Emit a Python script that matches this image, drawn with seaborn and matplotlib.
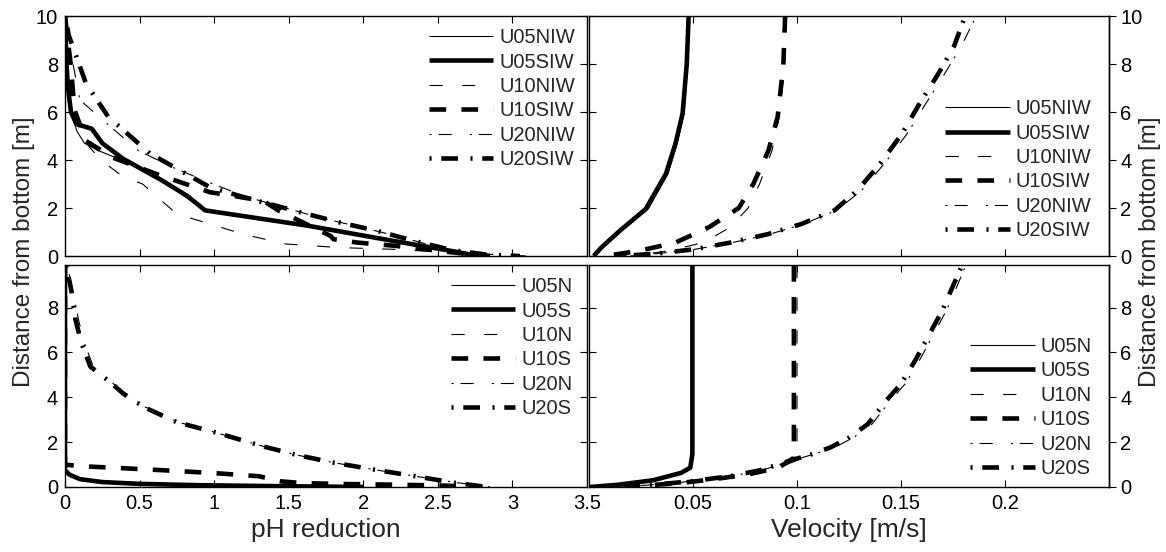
import numpy as np
import pandas as pd
import matplotlib
matplotlib.use("Agg")
import matplotlib.pyplot as plt
import seaborn as sns

# ---------------- data ----------------
labels_iw = ["U05NIW", "U05SIW", "U10NIW", "U10SIW", "U20NIW", "U20SIW"]
labels_n = ["U05N", "U05S", "U10N", "U10S", "U20N", "U20S"]

# top-left: pH reduction (with internal wave)
tl_u05n_z = [10, 8, 6, 5.2, 4.7, 4.4, 4.0, 3.2, 2.5, 1.9, 1.3, 0.6, 0.2, 0]
tl_u05n_x = [0, 0.01, 0.04, 0.08, 0.13, 0.22, 0.38, 0.63, 0.8, 0.93, 1.62, 2.2, 2.6, 2.77]
tl_u05s_z = [10, 9, 8, 7, 6, 5.5, 5.3, 4.7, 4.05, 3.15, 2.5, 1.9, 1.26, 0.63, 0.2, 0]
tl_u05s_x = [0, 0.005, 0.01, 0.02, 0.04, 0.076, 0.18, 0.25, 0.39, 0.65, 0.82, 0.94, 1.63, 2.2, 2.6, 2.77]
tl_u10n_z = [10, 8, 6.1, 5, 4.5, 4.0, 3.3, 3.0, 2.45, 1.75, 1.47, 0.9, 0.5, 0.35, 0.28, 0.14, 0]
tl_u10n_x = [0, 0.02, 0.05, 0.1, 0.17, 0.24, 0.39, 0.52, 0.62, 0.75, 0.9, 1.2, 1.48, 1.84, 2.2, 2.6, 3.1]
tl_u10s_z = [10, 7.9, 6.1, 4.8, 4.1, 3.4, 2.66, 2.3, 1.9, 0.84, 0.7, 0.56, 0.42, 0.24, 0.1, 0]
tl_u10s_x = [0, 0.04, 0.063, 0.14, 0.32, 0.62, 0.97, 1.33, 1.43, 1.78, 1.8, 1.96, 2.22, 2.47, 2.67, 2.85]
tl_u20n_z = [10, 9.3, 6.5, 5.9, 4.4, 3.7, 3.08, 2.5, 2.03, 1.6, 1.19, 0.84, 0.42, 0.07, 0]
tl_u20n_x = [0, 0.013, 0.1, 0.21, 0.49, 0.72, 0.96, 1.2, 1.46, 1.71, 1.99, 2.22, 2.47, 2.72, 2.77]
tl_u20s_z = [10, 9.2, 7.2, 5.8, 4.27, 2.87, 2.45, 1.82, 1.4, 1.05, 0.63, 0.24, 0.04, 0]
tl_u20s_x = [0, 0.025, 0.14, 0.29, 0.57, 0.97, 1.2, 1.58, 1.84, 2.09, 2.34, 2.6, 2.85, 3.05]

# top-right: velocity (with internal wave)
tr_u05_z = [10, 8, 5.94, 4.69, 3.43, 1.96, 1.05, 0.35, 0]
tr_u05n_v = [0.0482, 0.0474, 0.0457, 0.0424, 0.038, 0.0285, 0.0155, 0.006, 0.0023]
tr_u05s_v = [0.0479, 0.047, 0.045, 0.0416, 0.037, 0.0273, 0.0148, 0.0059, 0.0023]
tr_u10_z = [10, 7.9, 5.8, 4.4, 3.0, 2.0, 1.2, 0.56, 0.21, 0]
tr_u10n_v = [0.095, 0.094, 0.0915, 0.088, 0.082, 0.0765, 0.068, 0.055, 0.038, 0.02]
tr_u10s_v = [0.0943, 0.0934, 0.0907, 0.0863, 0.079, 0.072, 0.0577, 0.0416, 0.0238, 0.0077]
tr_u20_z = [9.8, 8.74, 7.6, 6.36, 5.1, 3.85, 2.73, 1.9, 1.33, 0.91, 0.56, 0.28, 0.1, 0]
tr_u20n_v = [0.185, 0.179, 0.171, 0.162, 0.153, 0.142, 0.131, 0.119, 0.103, 0.087, 0.069, 0.051, 0.033, 0.015]
tr_u20s_v = [0.18, 0.1755, 0.168, 0.159, 0.1505, 0.14, 0.129, 0.118, 0.102, 0.086, 0.068, 0.0505, 0.0327, 0.015]

# bottom-left: pH reduction (no internal wave)
bl_u05n_z = [9.9, 0.7, 0.45, 0.3, 0.2, 0.12, 0.06, 0.02, 0]
bl_u05n_x = [0, 0, 0.05, 0.12, 0.3, 0.6, 1.0, 1.5, 2.0]
bl_u05s_z = [9.9, 0.75, 0.55, 0.35, 0.22, 0.14, 0.08, 0.04, 0]
bl_u05s_x = [0, 0, 0.03, 0.1, 0.25, 0.5, 0.9, 1.4, 2.0]
bl_u10n_z = [9.9, 0.6, 0.3, 0.15, 0.1, 0.06, 0.03, 0]
bl_u10n_x = [0, 0, 0.05, 0.4, 0.9, 1.5, 2.1, 2.6]
bl_u10s_z = [9.9, 1.0, 0.93, 0.85, 0.75, 0.62, 0.48, 0.25, 0.17, 0.13, 0.1, 0.06, 0]
bl_u10s_x = [0, 0, 0.1, 0.35, 0.65, 1.0, 1.3, 1.45, 1.6, 1.9, 2.25, 2.55, 2.8]
bl_u20_z = [9.88, 8.68, 7.47, 6.42, 5.37, 4.69, 4.17, 3.56, 2.89, 2.45, 1.79, 1.42, 1.1, 0.8, 0.5, 0.2, 0]
bl_u20n_x = [0.015, 0.055, 0.09, 0.13, 0.19, 0.31, 0.4, 0.54, 0.76, 1.0, 1.34, 1.56, 1.79, 2.05, 2.33, 2.62, 2.85]
bl_u20s_x = [0.008, 0.045, 0.07, 0.11, 0.17, 0.30, 0.39, 0.53, 0.75, 1.0, 1.34, 1.56, 1.79, 2.05, 2.33, 2.6, 2.83]

# bottom-right: velocity (no internal wave)
br_u05_z = [9.9, 1.46, 0.86, 0.63, 0.3, 0.1, 0]
br_u05n_v = [0.0499, 0.0499, 0.0488, 0.0445, 0.031, 0.014, 0.0005]
br_u05s_v = [0.0497, 0.0497, 0.0487, 0.0443, 0.0308, 0.0138, 0.0005]
br_u10n_z = [9.9, 1.2, 1.0, 0.7, 0.4, 0.15, 0]
br_u10n_v = [0.1, 0.1, 0.095, 0.085, 0.068, 0.045, 0.02]
br_u10s_z = [9.9, 1.3, 1.16, 0.86, 0.56, 0.33, 0.18, 0.05, 0]
br_u10s_v = [0.0985, 0.0985, 0.0962, 0.091, 0.0765, 0.0586, 0.044, 0.025, 0.015]
br_u20_z = [9.75, 8.97, 7.9, 6.87, 5.67, 4.6, 3.86, 2.8, 2.2, 1.76, 1.46, 1.16, 0.74, 0.48, 0.26, 0.15, 0.05, 0]
br_u20n_v = [0.1805, 0.177, 0.172, 0.166, 0.159, 0.152, 0.145, 0.136, 0.127, 0.118, 0.108, 0.097, 0.083, 0.068, 0.05, 0.037, 0.023, 0.015]
br_u20s_v = [0.1787, 0.175, 0.17, 0.164, 0.157, 0.15, 0.143, 0.134, 0.125, 0.116, 0.107, 0.0962, 0.082, 0.0676, 0.0496, 0.037, 0.023, 0.015]

ph_ticks = [0, 0.5, 1, 1.5, 2, 2.5, 3, 3.5]
ph_ticklabels = ["0", "0.5", "1", "1.5", "2", "2.5", "3", "3.5"]
vel_ticks = [0.05, 0.1, 0.15, 0.2]
vel_ticklabels = ["0.05", "0.1", "0.15", "0.2"]
z_ticks_top = [0, 2, 4, 6, 8, 10]
z_ticks_bot = [0, 2, 4, 6, 8]

# ---------------- style ----------------
sns.set_theme(style="white")
plt.rcParams["font.family"] = ["Liberation Sans", "DejaVu Sans"]
plt.rcParams["lines.scale_dashes"] = False
plt.rcParams["axes.linewidth"] = 1.1
plt.rcParams["axes.edgecolor"] = "black"

THIN, THICK = 0.8, 3.3
styles = [
    dict(linewidth=THIN, linestyle="-"),
    dict(linewidth=THICK, linestyle="-"),
    dict(linewidth=THIN, linestyle=(0, (9.5, 14))),
    dict(linewidth=THICK, linestyle=(0, (12, 11))),
    dict(linewidth=THIN, linestyle=(0, (1.5, 5, 9.5, 13))),
    dict(linewidth=THICK, linestyle=(0, (1.5, 7, 12, 9))),
]

TICK_FS = 14.5
LEG_FS = 14.5
XLABEL_FS = 19
YLABEL_FS = 17.5

fig = plt.figure(figsize=(11.66, 5.52), dpi=100)
W, H = 1166, 552


def axes_px(x0, y0, x1, y1):
    return fig.add_axes([x0 / W, 1 - y1 / H, (x1 - x0) / W, (y1 - y0) / H])


ax_tl = axes_px(65, 16, 587, 256)
ax_tr = axes_px(589, 16, 1109, 256)
ax_bl = axes_px(65, 265, 587, 487)
ax_br = axes_px(589, 265, 1109, 487)


def draw(ax, xs, zs, labels):
    for x, z, lab, st in zip(xs, zs, labels, styles):
        df = pd.DataFrame({"x": x, "z": z})
        sns.lineplot(data=df, x="x", y="z", ax=ax, sort=False, estimator=None,
                     color="black", label=lab, dash_capstyle="butt",
                     solid_capstyle="butt", **st)


draw(ax_tl, [tl_u05n_x, tl_u05s_x, tl_u10n_x, tl_u10s_x, tl_u20n_x, tl_u20s_x],
     [tl_u05n_z, tl_u05s_z, tl_u10n_z, tl_u10s_z, tl_u20n_z, tl_u20s_z], labels_iw)
draw(ax_tr, [tr_u05n_v, tr_u05s_v, tr_u10n_v, tr_u10s_v, tr_u20n_v, tr_u20s_v],
     [tr_u05_z, tr_u05_z, tr_u10_z, tr_u10_z, tr_u20_z, tr_u20_z], labels_iw)
draw(ax_bl, [bl_u05n_x, bl_u05s_x, bl_u10n_x, bl_u10s_x, bl_u20n_x, bl_u20s_x],
     [bl_u05n_z, bl_u05s_z, bl_u10n_z, bl_u10s_z, bl_u20_z, bl_u20_z], labels_n)
draw(ax_br, [br_u05n_v, br_u05s_v, br_u10n_v, br_u10s_v, br_u20n_v, br_u20s_v],
     [br_u05_z, br_u05_z, br_u10n_z, br_u10s_z, br_u20_z, br_u20_z], labels_n)

for ax in (ax_tl, ax_bl):
    ax.set_xlim(0, 3.5)
    ax.set_xticks(ph_ticks)
for ax in (ax_tr, ax_br):
    ax.set_xlim(0, 0.25)
    ax.set_xticks(vel_ticks)
for ax in (ax_tl, ax_tr):
    ax.set_ylim(0, 10)
    ax.set_yticks(z_ticks_top)
    ax.tick_params(axis="x", labelbottom=False)
for ax in (ax_bl, ax_br):
    ax.set_ylim(0, 9.9)
    ax.set_yticks(z_ticks_bot)

for ax in (ax_tl, ax_tr, ax_bl, ax_br):
    ax.set_xlabel("")
    ax.set_ylabel("")
    ax.tick_params(direction="in", length=5, width=0.8, top=True, bottom=True,
                   left=True, labelsize=TICK_FS, colors="black", pad=5)
    for s in ax.spines.values():
        s.set_color("black")
        s.set_linewidth(1.0)

for ax in (ax_tl, ax_bl):
    ax.tick_params(axis="y", right=True)

ax_bl.set_xticklabels(ph_ticklabels)
ax_br.set_xticklabels(vel_ticklabels)

for ax, ticks in ((ax_tr, z_ticks_top), (ax_br, z_ticks_bot)):
    ax.tick_params(axis="y", left=True, right=False, labelleft=False)
    sec = ax.secondary_yaxis("right")
    sec.set_yticks(ticks)
    sec.set_yticklabels([str(t) for t in ticks])
    sec.tick_params(direction="out", length=5, width=0.8, labelsize=TICK_FS,
                    colors="black", pad=3)
    sec.spines["right"].set_linewidth(1.0)

ax_bl.set_xlabel("pH reduction", fontsize=XLABEL_FS, labelpad=4)
ax_br.set_xlabel("Velocity [m/s]", fontsize=XLABEL_FS, labelpad=4)

ycen = 1 - ((16 + 487) / 2) / H
fig.text(24 / W, ycen, "Distance from bottom [m]", rotation=90, fontsize=YLABEL_FS,
         ha="center", va="center")
fig.text(1150 / W, ycen, "Distance from bottom [m]", rotation=90, fontsize=YLABEL_FS,
         ha="center", va="center")

leg_kw = dict(frameon=False, fontsize=LEG_FS, handlelength=3.2, handletextpad=0.3,
              labelspacing=0.27, borderaxespad=0.2)
ax_tl.legend(loc="upper right", bbox_to_anchor=(1.0, 1.0), **leg_kw)
ax_bl.legend(loc="upper right", bbox_to_anchor=(0.995, 1.0), **leg_kw)
ax_tr.legend(loc="lower right", bbox_to_anchor=(0.99, 0.015), **leg_kw)
ax_br.legend(loc="lower right", bbox_to_anchor=(0.99, -0.015), **leg_kw)

fig.savefig("out.png", dpi=100)
